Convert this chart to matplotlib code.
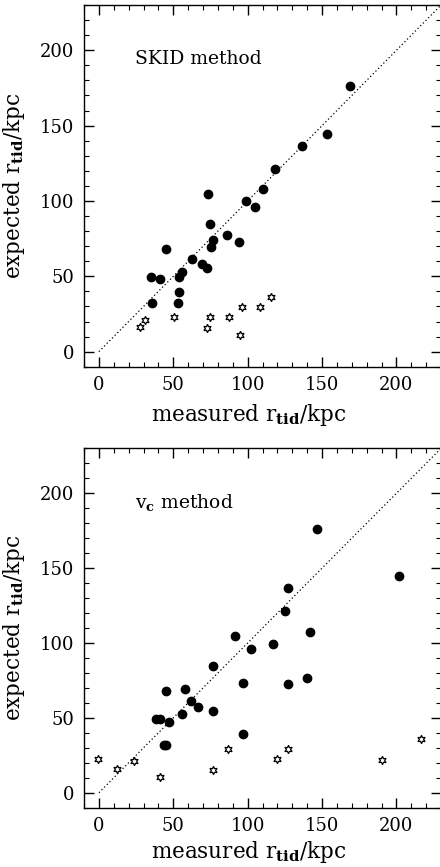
import numpy as np
import matplotlib
matplotlib.use('Agg')
import matplotlib.pyplot as plt
from matplotlib.ticker import MultipleLocator

plt.rcParams['font.family'] = 'DejaVu Serif'
plt.rcParams['mathtext.fontset'] = 'dejavuserif'

# SKID method: filled = bound satellites, stars = others
skid_x = [168.6, 153.0, 136.2, 118.3, 110.4, 99.2, 104.8, 73.5, 74.8, 76.4, 75.3, 86.0,
          94.5, 45.0, 62.9, 69.2, 72.6, 56.0, 53.8, 34.9, 41.4, 54.0, 35.4, 53.3]
skid_y = [176.0, 144.7, 136.2, 121.1, 107.8, 99.8, 96.0, 104.9, 84.9, 74.2, 69.6, 77.1,
          72.9, 68.4, 61.3, 58.0, 55.3, 52.7, 49.6, 49.3, 48.2, 39.6, 32.2, 32.4]
skid_star_x = [27.5, 31.1, 50.6, 74.4, 72.6, 87.6, 95.0, 96.5, 108.0, 115.6]
skid_star_y = [16.7, 21.1, 23.1, 23.1, 15.8, 23.1, 11.1, 29.8, 29.8, 36.2]

# v_c method
vc_x = [146.9, 202.0, 127.0, 125.0, 141.8, 91.8, 116.7, 102.1, 77.0, 140.0, 97.0, 127.0,
        45.0, 58.0, 62.0, 66.7, 76.8, 56.0, 38.7, 41.0, 47.0, 97.0, 43.9, 45.0]
vc_y = [175.9, 144.9, 136.5, 121.3, 107.5, 104.8, 99.4, 95.7, 84.7, 76.7, 73.6, 72.5,
        68.0, 69.3, 61.1, 57.5, 54.8, 52.4, 49.1, 49.1, 47.5, 39.0, 31.9, 31.9]
vc_star_x = [-0.4, 11.9, 23.7, 41.4, 76.8, 87.1, 120.0, 127.0, 190.0, 216.8]
vc_star_y = [22.5, 16.1, 21.0, 10.7, 15.2, 29.2, 22.5, 29.2, 22.1, 35.7]

fig = plt.figure(figsize=(4.4, 8.67), dpi=100)
ax1 = fig.add_axes([0.1909, 0.577, 0.8116, 0.4172])
ax2 = fig.add_axes([0.1909, 0.0684, 0.8116, 0.4145])

panels = [
    (ax1, skid_x, skid_y, skid_star_x, skid_star_y, 'SKID method', -0.098),
    (ax2, vc_x, vc_y, vc_star_x, vc_star_y, r'v$_{\mathbf{c}}$ method', -0.087),
]

for ax, x, y, sx, sy, title, xlab_y in panels:
    ax.plot([0, 240], [0, 240], linestyle=(0, (1, 2)), color='black', linewidth=0.9)
    ax.plot(x, y, 'o', color='black', markersize=6)
    ax.plot(sx, sy, linestyle='none', marker=(6, 1, 0), markersize=6,
            markerfacecolor='white', markeredgecolor='black', markeredgewidth=0.9)
    ax.text(24, 194, title, fontsize=13.5, va='center', ha='left')
    ax.set_xlim(-10, 230)
    ax.set_ylim(-10, 230)
    ax.xaxis.set_major_locator(MultipleLocator(50))
    ax.xaxis.set_minor_locator(MultipleLocator(10))
    ax.yaxis.set_major_locator(MultipleLocator(50))
    ax.yaxis.set_minor_locator(MultipleLocator(10))
    ax.tick_params(which='both', direction='in', top=True, right=True, labelsize=13)
    ax.tick_params(which='major', length=7, width=1)
    ax.tick_params(which='minor', length=3.5, width=0.8)
    ax.tick_params(axis='x', pad=7)
    ax.tick_params(axis='y', pad=7)
    ax.set_xlabel(r'measured r$_{\mathbf{tid}}$/kpc', fontsize=15.5)
    ax.set_ylabel(r'expected r$_{\mathbf{tid}}$/kpc', fontsize=15.5)
    ax.xaxis.set_label_coords(0.462, xlab_y)
    ax.yaxis.set_label_coords(-0.16, 0.5)
    for s in ax.spines.values():
        s.set_linewidth(1)

fig.savefig('out.png', dpi=100)
